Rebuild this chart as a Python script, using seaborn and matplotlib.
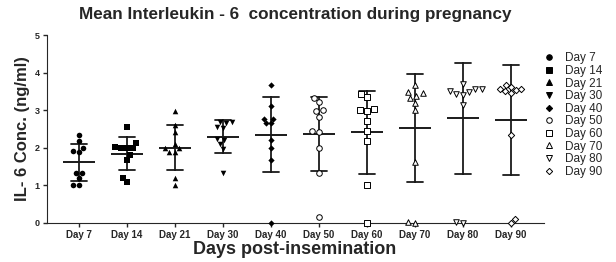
import numpy as np
import pandas as pd
import seaborn as sns
import matplotlib.pyplot as plt
from matplotlib.lines import Line2D

# IL-6 readings (ng/ml), 10 animals per sampling day
days = ['Day 7', 'Day 14', 'Day 21', 'Day 30', 'Day 40',
        'Day 50', 'Day 60', 'Day 70', 'Day 80', 'Day 90']
day_7 = [2.33, 2.18, 1.99, 1.88, 1.92, 1.33, 1.33, 1.20, 1.00, 1.00]
day_14 = [2.56, 2.12, 2.00, 2.00, 2.00, 2.02, 1.81, 1.68, 1.20, 1.09]
day_21 = [2.99, 2.61, 2.41, 2.11, 1.99, 1.89, 1.89, 1.99, 1.19, 1.01]
day_30 = [2.70, 2.68, 2.56, 2.54, 2.67, 2.21, 2.23, 2.10, 1.97, 1.32]
day_40 = [3.66, 3.12, 2.76, 2.66, 2.66, 2.76, 2.22, 1.99, 1.68, 0.00]
day_50 = [3.33, 3.21, 3.00, 2.98, 2.82, 2.45, 2.43, 1.99, 1.34, 0.17]
day_60 = [3.36, 3.44, 3.01, 2.99, 3.03, 2.71, 2.46, 2.19, 1.00, 0.00]
day_70 = [3.66, 3.49, 3.39, 3.32, 3.45, 3.20, 3.00, 1.63, 0.00, 0.02]
day_80 = [3.57, 3.57, 3.69, 3.48, 3.41, 3.44, 3.52, 3.13, 0.00, 0.02]
day_90 = [3.57, 3.54, 3.68, 3.62, 3.50, 3.56, 3.47, 2.34, 0.00, 0.10]
values = [day_7, day_14, day_21, day_30, day_40,
          day_50, day_60, day_70, day_80, day_90]

markers = ['o', 's', '^', 'v', 'D', 'o', 's', '^', 'v', 'D']
filled = [True] * 5 + [False] * 5

df = pd.DataFrame({'day': np.repeat(days, [len(v) for v in values]),
                   'conc': np.concatenate(values)})

sns.set_style('ticks')
plt.rcParams['font.family'] = ['Liberation Sans', 'DejaVu Sans']

fig = plt.figure(figsize=(6.16, 2.62), dpi=100)
ax = fig.add_axes([0.076, 0.149, 0.807, 0.717])

# mean line + SD bars
sns.pointplot(data=df, x='day', y='conc', order=days, errorbar='sd',
              capsize=0.33, linestyle='none', marker='_', markersize=23,
              markeredgewidth=1.4, color='#1a1a1a',
              err_kws={'linewidth': 1.3}, ax=ax)

for d, v, m, f in zip(days, values, markers, filled):
    sz = 3.2 if m == 'D' else 4
    sns.swarmplot(x=[d] * len(v), y=v, order=days, marker=m, size=sz,
                  color='black' if f else 'white', edgecolor='black',
                  linewidth=0 if f else 0.7, ax=ax)

for c in ax.collections:
    c.set_clip_on(False)

ax.set_xlim(-0.67, 9.69)
ax.set_ylim(0, 5)
ax.set_yticks(range(6))
ax.set_xlabel('')
ax.set_ylabel('')
sns.despine(ax=ax)
ax.tick_params(axis='both', length=3, width=1, pad=2)
plt.setp(ax.get_xticklabels(), fontweight='bold', fontsize=7)
plt.setp(ax.get_yticklabels(), fontweight='bold', fontsize=6.5)

fig.text(0.479, 0.943, 'Mean Interleukin - 6  concentration during pregnancy',
         ha='center', va='center', fontsize=12.3, fontweight='bold')
fig.text(0.479, 0.046, 'Days post-insemination',
         ha='center', va='center', fontsize=13, fontweight='bold')
fig.text(0.036, 0.508, 'IL- 6 Conc. (ng/ml)', rotation=90,
         ha='center', va='center', fontsize=12, fontweight='bold')

handles = [Line2D([], [], marker=m, linestyle='none', color='black',
                  markerfacecolor='black' if f else 'white',
                  markeredgewidth=0.7, markersize=3.2 if m == 'D' else 4)
           for m, f in zip(markers, filled)]
fig.legend(handles, days, loc='upper left', bbox_to_anchor=(0.882, 0.80),
           frameon=False, fontsize=8.5, handlelength=1, handletextpad=0.85,
           labelspacing=0.05, borderpad=0, borderaxespad=0)

fig.savefig('out.png', dpi=100)
